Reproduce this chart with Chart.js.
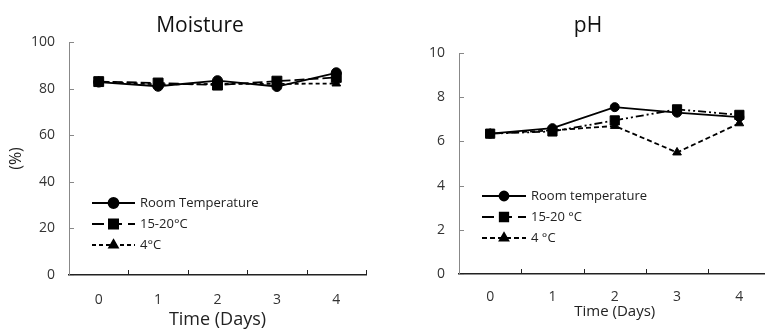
<!DOCTYPE html>
<html>
<head>
<meta charset="utf-8">
<title>Moisture and pH</title>
<script src="https://cdn.jsdelivr.net/npm/chart.js@4.4.0/dist/chart.umd.min.js"></script>
<style>
  html, body { margin: 0; padding: 0; background: #fff; overflow: hidden; }
  body { width: 765px; height: 329px; position: relative; font-family: "Open Sans", sans-serif; }
  .box { position: absolute; top: 0; height: 329px; }
  #leftBox { left: 0; width: 380px; }
  #rightBox { left: 380px; width: 400px; }
  .title { position: absolute; top: 12px; font-size: 21px; color: #111; transform: translateX(-50%); white-space: nowrap; line-height: 1.2; }
</style>
</head>
<body>
<div class="box" id="leftBox"><canvas id="moisture"></canvas></div>
<div class="box" id="rightBox"><canvas id="ph"></canvas></div>
<div class="title" style="left:200px">Moisture</div>
<div class="title" style="left:588px">pH</div>

<script>
// data
var days = ['0', '1', '2', '3', '4'];
var seriesNames = ['Room Temperature', '15-20°C', '4°C'];
var phSeriesNames = ['Room temperature', '15-20 °C', '4 °C'];

var moistureRoom = [82.8, 81.0, 83.4, 80.9, 86.8];
var moisture1520 = [83.0, 82.4, 81.5, 83.2, 84.8];
var moisture4 = [83.0, 81.8, 82.0, 82.0, 82.2];

var phRoom = [6.35, 6.6, 7.55, 7.3, 7.1];
var ph1520 = [6.35, 6.45, 6.95, 7.45, 7.2];
var ph4 = [6.35, 6.5, 6.7, 5.5, 6.82];

var moistureTicks = [0, 20, 40, 60, 80, 100];
var phTicks = [0, 2, 4, 6, 8, 10];

var FONT = '"Open Sans", sans-serif';

// ticks pointing into the plot, like the original
var innerTicks = {
  id: 'innerTicks',
  afterDraw: function (chart) {
    var ctx = chart.ctx, x = chart.scales.x, y = chart.scales.y;
    var step = x.getPixelForValue(1) - x.getPixelForValue(0);
    ctx.save();
    ctx.strokeStyle = '#222';
    ctx.lineWidth = 1;
    ctx.beginPath();
    for (var i = 0; i < days.length; i++) {
      var px = Math.round(x.getPixelForValue(i) + step / 2) + 0.5;
      ctx.moveTo(px, y.bottom);
      ctx.lineTo(px, y.bottom - 5);
    }
    ctx.stroke();
    ctx.strokeStyle = '#888';
    ctx.beginPath();
    y.ticks.forEach(function (t) {
      var py = Math.round(y.getPixelForValue(t.value)) + 0.5;
      ctx.moveTo(x.left, py);
      ctx.lineTo(x.left + 5, py);
    });
    ctx.stroke();
    ctx.restore();
  }
};

// legend: line sample with the marker in the middle
var lineLegend = {
  id: 'lineLegend',
  afterDraw: function (chart, args, opts) {
    var ctx = chart.ctx;
    ctx.save();
    chart.data.datasets.forEach(function (ds, i) {
      var y = opts.y + i * opts.gap;
      var x0 = opts.x, x1 = opts.x + opts.len;
      ctx.strokeStyle = ds.borderColor;
      ctx.lineWidth = ds.borderWidth;
      ctx.setLineDash(ds.legendDash || ds.borderDash || []);
      ctx.beginPath();
      ctx.moveTo(x0, y);
      ctx.lineTo(x1, y);
      ctx.stroke();
      ctx.setLineDash([]);
      ctx.fillStyle = ds.pointBackgroundColor;
      ctx.strokeStyle = ds.pointBorderColor;
      Chart.helpers.drawPoint(ctx, {
        pointStyle: ds.pointStyle, radius: ds.legendRadius || ds.pointRadius, rotation: 0, borderWidth: 1
      }, (x0 + x1) / 2, y);
      ctx.fillStyle = '#222';
      ctx.font = opts.fontSize + 'px ' + FONT;
      ctx.textBaseline = 'middle';
      ctx.textAlign = 'left';
      ctx.fillText(ds.label, x1 + 5, y);
    });
    ctx.restore();
  }
};

function series(label, data, style, dash, legendDash, radius, legendRadius) {
  return {
    label: label, data: data,
    borderColor: '#000', borderWidth: 1.8, borderDash: dash, legendDash: legendDash,
    pointStyle: style, pointRadius: radius, pointHoverRadius: radius, legendRadius: legendRadius,
    pointBackgroundColor: '#000', pointBorderColor: '#000', pointBorderWidth: 1,
    tension: 0, fill: false
  };
}

function makeChart(id, cfg) {
  return new Chart(document.getElementById(id), {
    type: 'line',
    data: { labels: days, datasets: cfg.datasets },
    options: {
      responsive: true, maintainAspectRatio: false, animation: false,
      layout: { padding: cfg.padding },
      plugins: {
        legend: { display: false }, tooltip: { enabled: false },
        lineLegend: cfg.legend
      },
      scales: {
        x: {
          type: 'category', offset: true,
          grid: { display: true, drawOnChartArea: false, drawTicks: false },
          border: { color: '#222', width: 1.5 },
          ticks: { color: '#333', font: { family: FONT, size: 14 }, padding: cfg.xTickPad },
          title: { display: true, text: 'Time (Days)', color: '#222', font: { family: FONT, size: cfg.xTitleSize, lineHeight: 1 }, padding: { top: 0, bottom: cfg.xTitlePad } },
          afterFit: function (s) { s.height = cfg.xHeight; }
        },
        y: {
          min: cfg.ticks[0], max: cfg.ticks[cfg.ticks.length - 1],
          afterBuildTicks: function (s) { s.ticks = cfg.ticks.map(function (v) { return { value: v }; }); },
          grid: { display: true, drawOnChartArea: false, drawTicks: false },
          border: { color: '#888', width: 1 },
          ticks: { color: '#333', font: { family: FONT, size: 14 }, padding: 14 },
          title: { display: !!cfg.yTitle, text: cfg.yTitle, color: '#222', font: { family: FONT, size: 16 }, padding: { top: 7, bottom: 0 } },
          afterFit: function (s) { s.width = cfg.yWidth; }
        }
      }
    },
    plugins: [innerTicks, lineLegend]
  });
}

makeChart('moisture', {
  datasets: [
    series(seriesNames[0], moistureRoom, 'circle', [], [], 5, 5),
    series(seriesNames[1], moisture1520, 'rect', [10, 4], [12, 6], 7, 6.5),
    series(seriesNames[2], moisture4, 'triangle', [4, 3], [4, 3], 5, 5)
  ],
  ticks: moistureTicks,
  padding: { left: 0, right: 14, top: 42, bottom: 0 },
  yWidth: 69, xHeight: 54, xTickPad: 17, xTitleSize: 18, xTitlePad: 0,
  yTitle: '(%)',
  legend: { x: 92, y: 203, gap: 21, len: 43, fontSize: 13 }
});

makeChart('ph', {
  datasets: [
    series(phSeriesNames[0], phRoom, 'circle', [], [], 4.5, 4.5),
    series(phSeriesNames[1], ph1520, 'rect', [8, 3, 2, 3, 2, 3], [12, 6], 6.5, 6),
    series(phSeriesNames[2], ph4, 'triangle', [5, 3], [5, 3], 5, 5)
  ],
  ticks: phTicks,
  padding: { left: 0, right: 9.5, top: 53, bottom: 0 },
  yWidth: 79, xHeight: 55, xTickPad: 15, xTitleSize: 15, xTitlePad: 10,
  yTitle: '',
  legend: { x: 102, y: 196, gap: 21, len: 44, fontSize: 13 }
});
</script>
</body>
</html>
